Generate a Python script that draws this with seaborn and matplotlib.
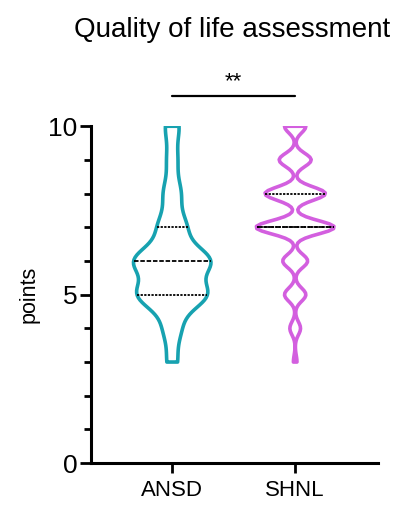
import numpy as np
import pandas as pd
import matplotlib
matplotlib.use("Agg")
import matplotlib.pyplot as plt
import seaborn as sns
from matplotlib.ticker import MultipleLocator

groups = ["ANSD", "SHNL"]
scores = [3, 4, 5, 6, 7, 8, 9, 10]
ansd_counts = [3, 5, 20, 22, 8, 5, 3, 4]
shnl_counts = [1, 3, 6, 7, 22, 17, 9, 6]
colors = ["#17a2b0", "#d35fdf"]
title = "Quality of life assessment"
y_label = "points"
signif = "**"

ansd = np.repeat(scores, ansd_counts)
shnl = np.repeat(scores, shnl_counts)
df = pd.DataFrame({
    "group": ["ANSD"] * len(ansd) + ["SHNL"] * len(shnl),
    "points": np.concatenate([ansd, shnl]),
})

sns.set_style("ticks", {"text.color": "black", "axes.edgecolor": "black",
                        "xtick.color": "black", "ytick.color": "black",
                        "axes.labelcolor": "black"})
plt.rcParams['font.family'] = ['Liberation Sans', 'DejaVu Sans']

fig = plt.figure(figsize=(3.96, 5.05), dpi=100)
ax = fig.add_axes([0.23, 0.083, 0.725, 0.667])

# separate calls so each group gets its own smoothing
bw = {"ANSD": 0.6, "SHNL": 0.29}
for g, c in zip(groups, colors):
    sns.violinplot(data=df[df["group"] == g], x="group", y="points", order=groups,
                   fill=False, color=c, linewidth=2.6, cut=0, width=0.63,
                   bw_adjust=bw[g], inner="quart",
                   inner_kws={"color": "black", "linewidth": 1.3}, ax=ax)

ax.set_ylim(0, 10)
ax.set_xlim(-0.66, 1.675)
ax.yaxis.set_major_locator(MultipleLocator(5))
ax.yaxis.set_minor_locator(MultipleLocator(1))
ax.set_xlabel("")
ax.set_ylabel(y_label, fontsize=15.5, labelpad=6)
ax.tick_params(axis="y", which="major", length=8, width=2, labelsize=19, pad=2)
ax.tick_params(axis="y", which="minor", length=5, width=2)
ax.tick_params(axis="x", length=7, width=2, labelsize=16, pad=5)
sns.despine(ax=ax)
for s in ["left", "bottom"]:
    ax.spines[s].set_linewidth(2.2)

# significance bar
ax.plot([0, 1], [10.9, 10.9], color="black", lw=1.6, clip_on=False)
ax.text(0.5, 11.0, signif, ha="center", va="bottom", fontsize=16)

fig.text(0.585, 0.94, title, ha="center", va="center", fontsize=20)

fig.savefig("out.png", dpi=100)
